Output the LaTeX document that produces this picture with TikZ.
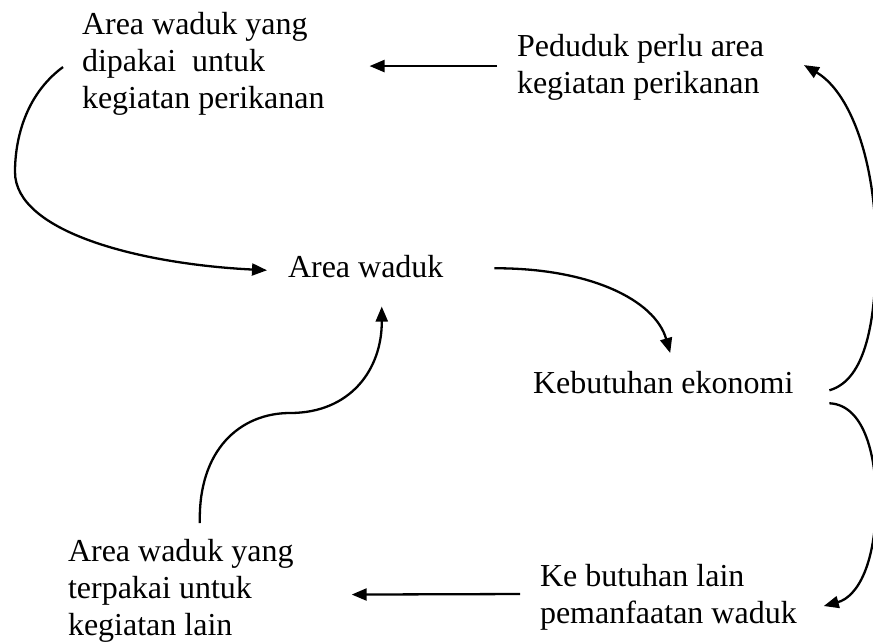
\documentclass[tikz,border=0pt]{standalone}
\usepackage{fontspec}
\setmainfont{Liberation Serif}
\usetikzlibrary{arrows.meta,calc}
\begin{document}
\begin{tikzpicture}[x=1pt,y=-1pt,
  lbl/.style={inner sep=0pt,outer sep=0pt,anchor=north west,align=left,
    font=\fontsize{32}{37}\selectfont},
  arr/.style={line width=2.3pt,-{Triangle[length=15pt,width=12pt]}}]
\useasboundingbox (0,0) rectangle (873,641);
\node[lbl] (A) at (82,12) {Area waduk yang\\dipakai\ \ untuk\\kegiatan perikanan};
\node[lbl] (P) at (517,34) {Peduduk perlu area\\kegiatan perikanan};
\node[lbl] (W) at (288,255) {Area waduk};
\node[lbl] (K) at (533,371) {Kebutuhan ekonomi};
\node[lbl] (L) at (68,539) {Area waduk yang\\terpakai untuk\\kegiatan lain};
\node[lbl] (B) at (540,564) {Ke butuhan lain\\pemanfaatan waduk};
% P -> A
\draw[arr] ($(P.west)+(-20,-1)$) -- ($(A.east)+(45,2.5)$);
% A -> W
\draw[arr] ($(A.west)+(-19,3.5)$) .. controls (25,95) and (15,140) .. (15,172)
  .. controls (15,232) and (140,264) .. ($(W.west)+(-21,4)$);
% W -> K
\draw[arr] ($(W.east)+(51,2)$) .. controls (590,268) and (655,300) .. ($(K.north)+(7,-18)$);
% K -> P
\draw[arr] ($(K.east)+(36,8)$) .. controls (866,380) and (876,320) .. (876,250)
  .. controls (876,160) and (850,92) .. ($(P.east)+(40,-2)$);
% K -> B
\draw[arr] ($(K.east)+(36,21)$) .. controls (866,405) and (876,460) .. (876,500)
  .. controls (876,565) and (857,597) .. ($(B.east)+(27,9)$);
% B -> L
\draw[arr] ($(B.west)+(-20,-3)$) -- ($(L.east)+(58,4)$);
% L -> W
\draw[arr] ($(L.north)+(19,-16)$) .. controls (198,450) and (240,413) .. (290,413)
  .. controls (350,413) and (382,370) .. ($(W.south)+(16,29)$);
\end{tikzpicture}
\end{document}
